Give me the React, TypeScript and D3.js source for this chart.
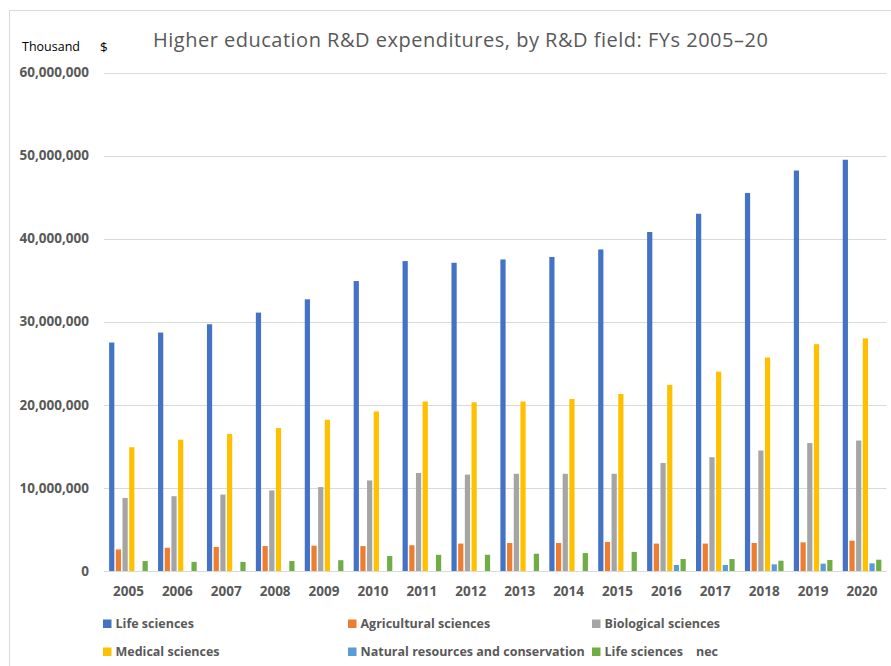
import React from "react";
import * as d3 from "d3";

const years = ["2005","2006","2007","2008","2009","2010","2011","2012","2013","2014","2015","2016","2017","2018","2019","2020"];
const seriesNames = ["Life sciences","Agricultural sciences","Biological sciences","Medical sciences","Natural resources and conservation","Life sciences    nec"];
const seriesColors = ["#4472C4","#ED7D31","#A5A5A5","#FFC000","#5B9BD5","#70AD47"];

const lifeSciences = [27500000,28700000,29700000,31100000,32700000,34900000,37300000,37100000,37500000,37800000,38700000,40800000,43000000,45500000,48200000,49500000];
const agriculturalSciences = [2600000,2800000,2900000,3000000,3050000,3000000,3100000,3300000,3370000,3370000,3500000,3300000,3300000,3370000,3450000,3650000];
const biologicalSciences = [8800000,9000000,9200000,9700000,10100000,10900000,11800000,11600000,11700000,11700000,11700000,13000000,13700000,14500000,15400000,15700000];
const medicalSciences = [14900000,15800000,16500000,17200000,18200000,19200000,20400000,20300000,20400000,20700000,21300000,22400000,24000000,25700000,27300000,28000000];
const naturalResources = [null,null,null,null,null,null,null,null,null,null,null,720000,720000,800000,880000,920000];
const lifeSciencesNec = [1200000,1100000,1100000,1200000,1300000,1800000,1950000,1950000,2080000,2160000,2300000,1440000,1440000,1240000,1320000,1360000];

const yTicks = [0,10000000,20000000,30000000,40000000,50000000,60000000];

const allSeries = [lifeSciences, agriculturalSciences, biologicalSciences, medicalSciences, naturalResources, lifeSciencesNec];

const W = 891, H = 666;
const FONT = "'Open Sans', 'DejaVu Sans', sans-serif";
const TXT = "#595959";

export default function App() {
  const x0 = d3.scaleBand<string>().domain(years).range([104, 886.5]).paddingInner(0.21).paddingOuter(0.105);
  const x1 = d3.scaleBand<number>().domain(d3.range(seriesNames.length)).range([0, x0.bandwidth()]).paddingInner(0.22);
  const y = d3.scaleLinear().domain([0, 60000000]).range([571, 72.5]);
  const fmt = d3.format(",");

  const legendCols = [103, 348, 592];
  const legendRows = [623.5, 651.5];

  return (
    <div style={{ position: "absolute", left: 0, top: 0 }}>
      <svg width={W} height={H} style={{ display: "block", background: "#fff" }}>
        <rect x={9.5} y={10.5} width={W} height={H} fill="none" stroke="#d9d9d9" strokeWidth={1} />
        {yTicks.map((t) => (
          <g key={t}>
            <line x1={104} x2={886.5} y1={Math.round(y(t)) + 0.5} y2={Math.round(y(t)) + 0.5} stroke="#d9d9d9" strokeWidth={1} />
            <text x={89} y={y(t)} dy="0.35em" textAnchor="end" fontFamily={FONT} fontWeight={700} fontSize={13.5} fill={TXT}>{fmt(t)}</text>
          </g>
        ))}
        {years.map((yr, i) => (
          <g key={yr} transform={`translate(${x0(yr)},0)`}>
            {allSeries.map((s, k) => {
              const v = s[i];
              if (v == null) return null;
              return (
                <rect key={k} x={x1(k)} y={y(v)} width={x1.bandwidth()} height={y(0) - y(v)} fill={seriesColors[k]} />
              );
            })}
            <text x={x0.bandwidth() / 2} y={591} dy="0.35em" textAnchor="middle" fontFamily={FONT} fontWeight={700} fontSize={13.5} fill={TXT}>{yr}</text>
          </g>
        ))}
        <text x={22} y={47} dy="0.35em" fontFamily={FONT} fontSize={12.5} fill="#000">Thousand</text>
        <text x={100} y={47} dy="0.35em" fontFamily={FONT} fontSize={13.5} fill="#000">$</text>
        <text x={153} y={40} dy="0.35em" fontFamily={FONT} fontSize={20} letterSpacing={0.5} fill={TXT}>Higher education R&amp;D expenditures, by R&amp;D field: FYs 2005–20</text>
        {seriesNames.map((name, k) => {
          const cx = legendCols[k % 3];
          const cy = legendRows[Math.floor(k / 3)];
          return (
            <g key={name}>
              <rect x={cx} y={cy - 4} width={8.5} height={8.5} fill={seriesColors[k]} />
              <text x={cx + 12.5} y={cy} dy="0.35em" fontFamily={FONT} fontWeight={700} fontSize={12.5} fill={TXT} style={{ whiteSpace: "pre" }}>{name}</text>
            </g>
          );
        })}
      </svg>
    </div>
  );
}
